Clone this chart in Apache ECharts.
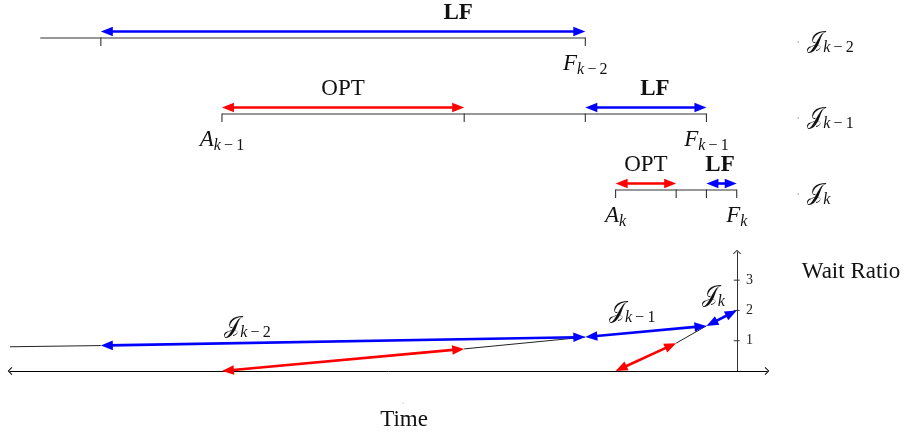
<!DOCTYPE html>
<html><head><meta charset="utf-8">
<script src="https://cdn.jsdelivr.net/npm/echarts@6/dist/echarts.min.js"></script>
<style>html,body{margin:0;padding:0;background:#fff}#c{width:904px;height:436px}</style>
</head><body><div id="c"></div>
<script>
// ---------------- data ----------------
const timeMin = -1, timeMax = 24;           // time axis extent
const ratioMax = 3.93;                      // wait-ratio axis extent
const jobSubs = ['k\u2009\u2212\u20092', 'k\u2009\u2212\u20091', 'k'];   // rows J_{k-2}, J_{k-1}, J_k
const rowSpan = [[0, 18], [6, 22], [19, 23]];
const rowTicks = [[2, 18], [6, 14, 18, 22], [19, 21, 22, 23]];
const optIntervals = [[6, 14, 1], [19, 21, 2]];          // [start, end, row]
const lfIntervals = [[2, 18, 0], [18, 22, 1], [22, 23, 2]];
const optLabelT = [10, 20];
const optLabelRow = [1, 2];
const lfLabelT = [13.8, 20.3, 22.45];
const startMarks = [[6, 1, 'A'], [19, 2, 'A']];           // [time, row, letter]
const endMarks = [[18, 0, 'F'], [22, 1, 'F'], [23, 2, 'F']];
const jobLabelT = 25.33;                                   // left edge of right-hand job names
const yTicks = [1, 2, 3];
const yAxisT = 23;
const trendSegs = [[-1, 0.80, 2, 0.84], [14, 0.73, 18, 1.12], [21, 0.92, 22, 1.49]];
const optRatio = [[6, 0, 14, 0.73], [19, 0, 21, 0.92]];
const lfRatio = [[2, 0.84, 18, 1.12], [18, 1.12, 22, 1.49], [22, 1.49, 23, 2.0]];
const ratioLabelT = [6.84, 19.55, 22.23];
const ratioLabelR = [1.45, 1.95, 2.48];

// ---------------- helpers ----------------
const SERIF = '"Liberation Serif","DejaVu Serif",serif';
const JFONT = '23px "Liberation Serif","DejaVu Serif","DejaVu Sans","Noto Sans",serif';
const BLUE = '#0000ff', RED = '#ff0000';
const mctx = document.createElement('canvas').getContext('2d');
function tw(t, f) { mctx.font = f; return mctx.measureText(t).width; }
function mathLabel(cx, cy, pieces, leftAlign) {
  const ws = pieces.map(p => tw(p.text, p.font));
  const total = ws.reduce((a, b) => a + b, 0);
  let x = leftAlign ? cx : cx - total / 2;
  return pieces.map((p, i) => {
    const el = { type: 'text', style: { text: p.text, x: x, y: cy + (p.dy || 0), font: p.font, fill: '#111', align: 'left', verticalAlign: 'middle' } };
    x += ws[i];
    return el;
  });
}
function subPieces(sub) {
  const parts = sub.split('\u2009');
  const arr = [{ text: parts[0], font: 'italic 16px ' + SERIF, dy: 6 }];
  if (parts.length > 1) arr.push({ text: '\u2009' + parts.slice(1).join('\u2009'), font: '16px ' + SERIF, dy: 6 });
  return arr;
}
function letterLabel(cx, cy, letter, sub) {
  return mathLabel(cx, cy, [{ text: letter, font: 'italic 23px ' + SERIF, dy: 0 }].concat(subPieces(sub)));
}
function jLabel(cx, cy, sub, leftAlign) {
  return mathLabel(cx, cy, [{ text: '\uD835\uDCA5', font: JFONT, dy: 0 }].concat(subPieces(sub)), leftAlign);
}
function seg(p1, p2, color, lw) {
  return { type: 'line', shape: { x1: p1[0], y1: p1[1], x2: p2[0], y2: p2[1] }, style: { stroke: color, lineWidth: lw } };
}
function head(tip, u, color, L, W) {
  const bx = tip[0] - u[0] * L, by = tip[1] - u[1] * L, n = [-u[1], u[0]];
  return { type: 'polygon', shape: { points: [tip, [bx + n[0] * W, by + n[1] * W], [bx - n[0] * W, by - n[1] * W]] }, style: { fill: color } };
}
function dblArrow(p1, p2, color) {
  const dx = p2[0] - p1[0], dy = p2[1] - p1[1], len = Math.hypot(dx, dy);
  const u = [dx / len, dy / len], L = Math.min(12, len * 0.42), W = 4.8;
  const a = [p1[0] + u[0] * L * 0.7, p1[1] + u[1] * L * 0.7], b = [p2[0] - u[0] * L * 0.7, p2[1] - u[1] * L * 0.7];
  return [seg(a, b, color, 2.6), head(p2, u, color, L, W), head(p1, [-u[0], -u[1]], color, L, W)];
}

// ---------------- series ----------------
const ARROW_UP = 6.5, TICK_LEN = 8;
const timelineBase = {
  type: 'custom', coordinateSystem: 'cartesian2d', xAxisIndex: 0, yAxisIndex: 0, silent: true, animation: false
};
const series = [
  Object.assign({}, timelineBase, {
    data: rowSpan.map((s, i) => [s[0], s[1], i]), encode: { x: [0, 1], y: 2 },
    renderItem: (p, api) => seg(api.coord([api.value(0), api.value(2)]), api.coord([api.value(1), api.value(2)]), '#333', 1.1)
  }),
  Object.assign({}, timelineBase, {
    data: rowTicks.flatMap((ts, i) => ts.map(t => [t, i])), encode: { x: 0, y: 1 },
    renderItem: (p, api) => { const c = api.coord([api.value(0), api.value(1)]); return seg([c[0], c[1] - 0.5], [c[0], c[1] + TICK_LEN], '#333', 1.1); }
  }),
  Object.assign({}, timelineBase, {
    data: optIntervals, encode: { x: [0, 1], y: 2 },
    renderItem: (p, api) => { const a = api.coord([api.value(0), api.value(2)]), b = api.coord([api.value(1), api.value(2)]);
      return { type: 'group', children: dblArrow([a[0], a[1] - ARROW_UP], [b[0], b[1] - ARROW_UP], RED) }; }
  }),
  Object.assign({}, timelineBase, {
    data: lfIntervals, encode: { x: [0, 1], y: 2 },
    renderItem: (p, api) => { const a = api.coord([api.value(0), api.value(2)]), b = api.coord([api.value(1), api.value(2)]);
      return { type: 'group', children: dblArrow([a[0], a[1] - ARROW_UP], [b[0], b[1] - ARROW_UP], BLUE) }; }
  }),
  // OPT / LF labels
  Object.assign({}, timelineBase, {
    data: optLabelT.map((t, i) => [t, optLabelRow[i]]), encode: { x: 0, y: 1 },
    renderItem: (p, api) => { const c = api.coord([api.value(0), api.value(1)]);
      return { type: 'text', style: { text: 'OPT', x: c[0], y: c[1] - 25, font: '23px ' + SERIF, fill: '#111', align: 'center', verticalAlign: 'middle' } }; }
  }),
  Object.assign({}, timelineBase, {
    data: lfLabelT.map((t, i) => [t, i]), encode: { x: 0, y: 1 },
    renderItem: (p, api) => { const c = api.coord([api.value(0), api.value(1)]);
      return { type: 'text', style: { text: 'LF', x: c[0], y: c[1] - 25, font: 'bold 23px ' + SERIF, fill: '#111', align: 'center', verticalAlign: 'middle' } }; }
  }),
  // A / F labels
  Object.assign({}, timelineBase, {
    data: startMarks.concat(endMarks).map(m => [m[0], m[1]]), encode: { x: 0, y: 1 },
    renderItem: (p, api) => { const m = startMarks.concat(endMarks)[p.dataIndex]; const c = api.coord([api.value(0), api.value(1)]);
      return { type: 'group', children: letterLabel(c[0], c[1] + 26, m[2], jobSubs[m[1]]) }; }
  }),
  // job names at right
  Object.assign({}, timelineBase, {
    data: jobSubs.map((s, i) => [jobLabelT, i]), encode: { x: 0, y: 1 },
    renderItem: (p, api) => { const c = api.coord([api.value(0), api.value(1)]);
      const kids = jLabel(c[0], c[1] + 4, jobSubs[p.dataIndex], true);
      kids.push({ type: 'circle', shape: { cx: c[0] - 9, cy: c[1] + 4, r: 0.7 }, style: { fill: '#999' } });
      return { type: 'group', children: kids }; }
  }),
  // ---- wait ratio plot ----
  { type: 'custom', coordinateSystem: 'cartesian2d', xAxisIndex: 1, yAxisIndex: 1, silent: true, animation: false,
    data: trendSegs, encode: { x: [0, 2], y: [1, 3] },
    renderItem: (p, api) => seg(api.coord([api.value(0), api.value(1)]), api.coord([api.value(2), api.value(3)]), '#222', 1) },
  { type: 'custom', coordinateSystem: 'cartesian2d', xAxisIndex: 1, yAxisIndex: 1, silent: true, animation: false,
    data: yTicks.map(v => [yAxisT, v]), encode: { x: 0, y: 1 },
    renderItem: (p, api) => { const c = api.coord([api.value(0), api.value(1)]); return seg([c[0] - 3, c[1]], [c[0] + 3, c[1]], '#333', 1); } },
  { type: 'custom', coordinateSystem: 'cartesian2d', xAxisIndex: 1, yAxisIndex: 1, silent: true, animation: false,
    data: optRatio, encode: { x: [0, 2], y: [1, 3] },
    renderItem: (p, api) => ({ type: 'group', children: dblArrow(api.coord([api.value(0), api.value(1)]), api.coord([api.value(2), api.value(3)]), RED) }) },
  { type: 'custom', coordinateSystem: 'cartesian2d', xAxisIndex: 1, yAxisIndex: 1, silent: true, animation: false,
    data: lfRatio, encode: { x: [0, 2], y: [1, 3] },
    renderItem: (p, api) => ({ type: 'group', children: dblArrow(api.coord([api.value(0), api.value(1)]), api.coord([api.value(2), api.value(3)]), BLUE) }) },
  { type: 'custom', coordinateSystem: 'cartesian2d', xAxisIndex: 1, yAxisIndex: 1, silent: true, animation: false,
    data: ratioLabelT.map((t, i) => [t, ratioLabelR[i]]), encode: { x: 0, y: 1 },
    renderItem: (p, api) => { const c = api.coord([api.value(0), api.value(1)]); return { type: 'group', children: jLabel(c[0], c[1], jobSubs[p.dataIndex]) }; } }
];

const chevron = 'path://M0,0 L4,3.9 L3.3,4.6 L0,1.3 L-3.3,4.6 L-4,3.9 Z';
const hiddenX = (g) => ({ type: 'value', gridIndex: g, min: timeMin, max: timeMax, show: false });
const option = {
  backgroundColor: '#fff',
  animation: false,
  grid: [
    { left: 10, right: 137, top: 38, bottom: 246 },
    { left: 10, right: 137, top: 252, bottom: 65 },
    { left: 10, right: 167, top: 252, bottom: 65 }
  ],
  xAxis: [
    hiddenX(0),
    { type: 'value', gridIndex: 1, min: timeMin, max: timeMax,
      axisLine: { show: true, onZero: false, symbol: [chevron, chevron], symbolSize: [8, 4.6], lineStyle: { color: '#000', width: 1 } },
      axisTick: { show: false }, axisLabel: { show: false }, splitLine: { show: false } },
    hiddenX(2)
  ],
  yAxis: [
    { type: 'value', gridIndex: 0, min: 0, max: 2, inverse: true, show: false },
    { type: 'value', gridIndex: 1, min: 0, max: ratioMax, show: false },
    { type: 'value', gridIndex: 2, min: 0, max: ratioMax, position: 'right', interval: 1,
      axisLine: { show: true, onZero: false, symbol: ['none', chevron], symbolSize: [8, 4.6], lineStyle: { color: '#333', width: 1 } },
      axisTick: { show: false },
      axisLabel: { show: true, customValues: yTicks, margin: 9, color: '#222', fontFamily: 'Liberation Serif', fontSize: 14 },
      splitLine: { show: false } }
  ],
  graphic: [
    { type: 'text', x: 851, y: 272, style: { text: 'Wait Ratio', font: '23px ' + SERIF, fill: '#111', align: 'center', verticalAlign: 'middle' } },
    { type: 'text', x: 404, y: 420, style: { text: 'Time', font: '23px ' + SERIF, fill: '#111', align: 'center', verticalAlign: 'middle' } },
    { type: 'circle', shape: { cx: 403, cy: 403, r: 0.6 }, style: { fill: '#999' } }
  ],
  series: series
};
const chart = echarts.init(document.getElementById('c'));
chart.setOption(option);
</script>
</body></html>
